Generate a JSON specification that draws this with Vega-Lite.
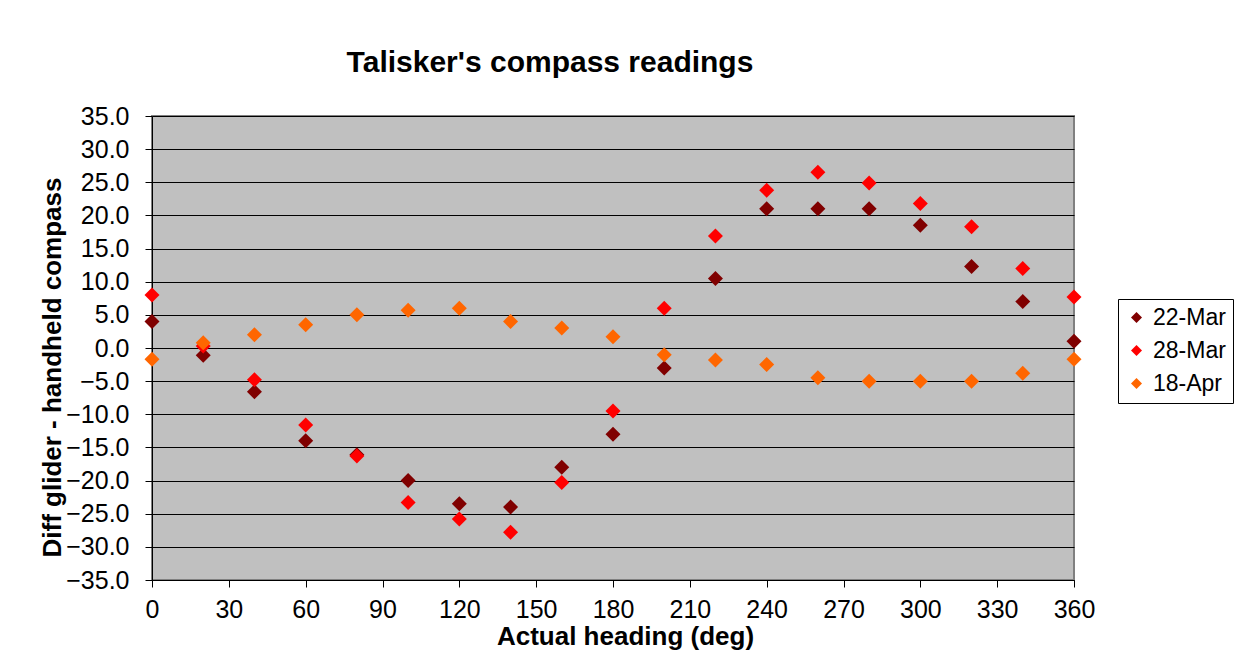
{
  "$schema": "https://vega.github.io/schema/vega-lite/v6.json",
  "autosize": {"type": "none"},
  "padding": {"left": 152, "top": 116, "right": 162, "bottom": 70},
  "width": 922,
  "height": 464,
  "background": "white",
  "title": {
    "text": "Talisker's compass readings",
    "font": "Liberation Sans",
    "fontSize": 30,
    "fontWeight": "bold",
    "color": "black",
    "frame": "group",
    "anchor": "middle",
    "dx": -63,
    "offset": 26
  },
  "data": {
    "values": [
      {"heading": 0, "series": "22-Mar", "diff": 4.0},
      {"heading": 20, "series": "22-Mar", "diff": -1.1},
      {"heading": 40, "series": "22-Mar", "diff": -6.6},
      {"heading": 60, "series": "22-Mar", "diff": -14.0},
      {"heading": 80, "series": "22-Mar", "diff": -16.1},
      {"heading": 100, "series": "22-Mar", "diff": -20.0},
      {"heading": 120, "series": "22-Mar", "diff": -23.5},
      {"heading": 140, "series": "22-Mar", "diff": -24.0},
      {"heading": 160, "series": "22-Mar", "diff": -18.0},
      {"heading": 180, "series": "22-Mar", "diff": -13.0},
      {"heading": 200, "series": "22-Mar", "diff": -3.0},
      {"heading": 220, "series": "22-Mar", "diff": 10.5},
      {"heading": 240, "series": "22-Mar", "diff": 21.0},
      {"heading": 260, "series": "22-Mar", "diff": 21.0},
      {"heading": 280, "series": "22-Mar", "diff": 21.0},
      {"heading": 300, "series": "22-Mar", "diff": 18.5},
      {"heading": 320, "series": "22-Mar", "diff": 12.3},
      {"heading": 340, "series": "22-Mar", "diff": 7.0},
      {"heading": 360, "series": "22-Mar", "diff": 1.0},
      {"heading": 0, "series": "28-Mar", "diff": 8.0},
      {"heading": 20, "series": "28-Mar", "diff": 0.3},
      {"heading": 40, "series": "28-Mar", "diff": -4.8},
      {"heading": 60, "series": "28-Mar", "diff": -11.6},
      {"heading": 80, "series": "28-Mar", "diff": -16.3},
      {"heading": 100, "series": "28-Mar", "diff": -23.3},
      {"heading": 120, "series": "28-Mar", "diff": -25.8},
      {"heading": 140, "series": "28-Mar", "diff": -27.8},
      {"heading": 160, "series": "28-Mar", "diff": -20.3},
      {"heading": 180, "series": "28-Mar", "diff": -9.5},
      {"heading": 200, "series": "28-Mar", "diff": 6.0},
      {"heading": 220, "series": "28-Mar", "diff": 16.9},
      {"heading": 240, "series": "28-Mar", "diff": 23.8},
      {"heading": 260, "series": "28-Mar", "diff": 26.5},
      {"heading": 280, "series": "28-Mar", "diff": 24.9},
      {"heading": 300, "series": "28-Mar", "diff": 21.8},
      {"heading": 320, "series": "28-Mar", "diff": 18.3},
      {"heading": 340, "series": "28-Mar", "diff": 12.0},
      {"heading": 360, "series": "28-Mar", "diff": 7.7},
      {"heading": 0, "series": "18-Apr", "diff": -1.7},
      {"heading": 20, "series": "18-Apr", "diff": 0.8},
      {"heading": 40, "series": "18-Apr", "diff": 2.0},
      {"heading": 60, "series": "18-Apr", "diff": 3.5},
      {"heading": 80, "series": "18-Apr", "diff": 5.0},
      {"heading": 100, "series": "18-Apr", "diff": 5.7},
      {"heading": 120, "series": "18-Apr", "diff": 6.0},
      {"heading": 140, "series": "18-Apr", "diff": 4.0},
      {"heading": 160, "series": "18-Apr", "diff": 3.0},
      {"heading": 180, "series": "18-Apr", "diff": 1.7},
      {"heading": 200, "series": "18-Apr", "diff": -1.0},
      {"heading": 220, "series": "18-Apr", "diff": -1.8},
      {"heading": 240, "series": "18-Apr", "diff": -2.5},
      {"heading": 260, "series": "18-Apr", "diff": -4.5},
      {"heading": 280, "series": "18-Apr", "diff": -5.0},
      {"heading": 300, "series": "18-Apr", "diff": -5.0},
      {"heading": 320, "series": "18-Apr", "diff": -5.0},
      {"heading": 340, "series": "18-Apr", "diff": -3.8},
      {"heading": 360, "series": "18-Apr", "diff": -1.7}
    ]
  },
  "mark": {"type": "point", "shape": "diamond", "filled": true, "opacity": 1, "size": 225, "strokeWidth": 0, "clip": false},
  "encoding": {
    "x": {
      "field": "heading",
      "type": "quantitative",
      "scale": {"domain": [0, 360], "nice": false, "zero": false},
      "axis": {
        "title": "Actual heading (deg)",
        "values": [0, 30, 60, 90, 120, 150, 180, 210, 240, 270, 300, 330, 360],
        "grid": false,
        "labelFlush": false,
        "labelOverlap": false,
        "titleX": 473,
        "titleY": 64,
        "titleAnchor": null,
        "titleAlign": "center",
        "titleBaseline": "alphabetic"
      }
    },
    "y": {
      "field": "diff",
      "type": "quantitative",
      "scale": {"domain": [-35, 35], "nice": false},
      "axis": {
        "title": "Diff glider - handheld compass",
        "values": [-35, -30, -25, -20, -15, -10, -5, 0, 5, 10, 15, 20, 25, 30, 35],
        "format": ".1f",
        "grid": true,
        "labelFlush": false,
        "labelOverlap": false,
        "titleX": -100,
        "titleY": 251,
        "titleAngle": -90,
        "titleAlign": "center",
        "titleBaseline": "middle"
      }
    },
    "color": {
      "field": "series",
      "type": "nominal",
      "sort": ["22-Mar", "28-Mar", "18-Apr"],
      "scale": {"domain": ["22-Mar", "28-Mar", "18-Apr"], "range": ["#800000", "#FF0000", "#FF6600"]},
      "legend": {
        "title": null,
        "orient": "none",
        "legendX": 966,
        "legendY": 183,
        "symbolType": "diamond",
        "symbolSize": 121,
        "symbolStrokeWidth": 0,
        "labelFont": "Liberation Sans",
        "labelFontSize": 23,
        "labelColor": "black",
        "labelOffset": 5,
        "rowPadding": 9,
        "padding": 7,
        "strokeColor": "black",
        "fillColor": "white"
      }
    }
  },
  "config": {
    "font": "Liberation Sans",
    "view": {"fill": "#C0C0C0", "stroke": "#808080", "strokeWidth": 2},
    "axis": {
      "labelFont": "Liberation Sans",
      "labelFontSize": 25,
      "labelColor": "black",
      "titleFont": "Liberation Sans",
      "titleFontSize": 26,
      "titleFontWeight": "bold",
      "titleColor": "black",
      "domainColor": "black",
      "domainWidth": 1,
      "tickColor": "black",
      "tickWidth": 1,
      "tickSize": 7,
      "gridColor": "black",
      "gridWidth": 1,
      "gridOpacity": 1,
      "labelPadding": 14
    },
    "axisY": {"labelPadding": 16},
    "axisX": {"labelPadding": 10}
  }
}
